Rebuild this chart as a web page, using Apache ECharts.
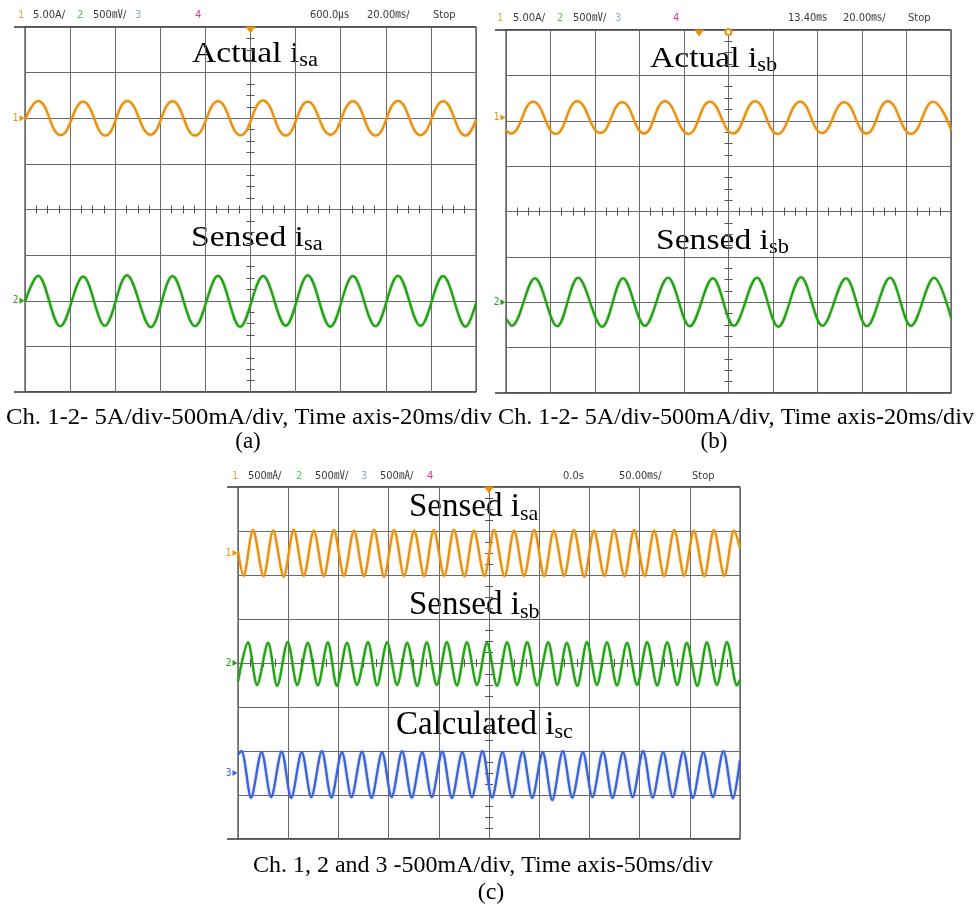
<!DOCTYPE html>
<html>
<head>
<meta charset="utf-8">
<script src="https://cdn.jsdelivr.net/npm/echarts@6/dist/echarts.min.js"></script>
<style>html,body{margin:0;padding:0;background:#fff}#chart{width:976px;height:909px}</style>
</head>
<body>
<div id="chart"></div>
<script>
// ---------- DATA (time in divisions, amplitude in divisions) ----------
// Panel (a): Actual i_sa (ch1, orange) and Sensed i_sa (ch2, green), 20 ms/div
const A_ACTUAL = [[0,1.96],[0.29,2.38],[0.79,1.63],[1.29,2.36],[1.78,1.62],[2.27,2.38],[2.78,1.64],[3.27,2.37],[3.77,1.62],[4.28,2.37],[4.78,1.63],[5.28,2.39],[5.78,1.62],[6.27,2.36],[6.77,1.64],[7.27,2.37],[7.77,1.62],[8.27,2.38],[8.77,1.63],[9.27,2.37],[9.77,1.62],[10,1.96]];
const A_SENSED = [[0,-2.02],[0.29,-1.45],[0.78,-2.56],[1.29,-1.47],[1.77,-2.55],[2.26,-1.44],[2.79,-2.58],[3.27,-1.46],[3.77,-2.56],[4.28,-1.45],[4.77,-2.57],[5.28,-1.46],[5.78,-2.55],[6.27,-1.44],[6.77,-2.57],[7.27,-1.46],[7.77,-2.56],[8.27,-1.45],[8.77,-2.55],[9.27,-1.46],[9.77,-2.57],[10,-2.05]];
// Panel (b): Actual i_sb (ch1) and Sensed i_sb (ch2), 20 ms/div
const B_ACTUAL = [[0,1.80],[0.11,1.72],[0.61,2.42],[1.12,1.71],[1.60,2.43],[2.12,1.73],[2.61,2.41],[3.10,1.72],[3.57,2.43],[4.10,1.71],[4.58,2.42],[5.10,1.72],[5.60,2.43],[6.10,1.71],[6.61,2.42],[7.10,1.73],[7.60,2.41],[8.10,1.72],[8.58,2.43],[9.10,1.71],[9.60,2.42],[10,1.80]];
const B_SENSED = [[0,-2.36],[0.13,-2.52],[0.65,-1.47],[1.15,-2.53],[1.62,-1.46],[2.16,-2.54],[2.63,-1.47],[3.12,-2.52],[3.64,-1.46],[4.13,-2.53],[4.65,-1.47],[5.12,-2.52],[5.64,-1.46],[6.12,-2.54],[6.63,-1.45],[7.11,-2.52],[7.64,-1.47],[8.11,-2.53],[8.63,-1.46],[9.10,-2.52],[9.62,-1.46],[10,-2.34]];
// Panel (c): Sensed i_sa (ch1), Sensed i_sb (ch2), Calculated i_sc (ch3), 50 ms/div
const C_SA = [[0,2.55],[0.11,1.98],[0.30,3.02],[0.51,1.97],[0.70,3.01],[0.91,1.96],[1.11,3.03],[1.31,1.98],[1.51,3.01],[1.71,1.97],[1.91,3.02],[2.11,1.98],[2.31,3.01],[2.51,1.97],[2.71,3.03],[2.91,1.96],[3.11,3.02],[3.31,1.98],[3.51,3.01],[3.71,1.97],[3.90,3.02],[4.11,1.98],[4.30,3.03],[4.51,1.97],[4.70,3.01],[4.91,1.98],[5.10,3.02],[5.31,1.97],[5.50,3.01],[5.70,1.98],[5.90,3.03],[6.10,1.97],[6.29,3.01],[6.50,1.98],[6.69,3.02],[6.90,1.96],[7.09,3.01],[7.30,1.98],[7.49,3.02],[7.70,1.97],[7.89,3.03],[8.10,1.98],[8.29,3.01],[8.49,1.97],[8.69,3.02],[8.89,1.98],[9.08,3.01],[9.29,1.97],[9.48,3.02],[9.69,1.98],[9.88,3.01],[10,2.62]];
const C_SB = [[0,-0.42],[0.20,0.47],[0.38,-0.50],[0.60,0.46],[0.78,-0.52],[0.99,0.48],[1.18,-0.50],[1.39,0.46],[1.59,-0.51],[1.79,0.47],[1.97,-0.52],[2.17,0.46],[2.37,-0.50],[2.59,0.48],[2.77,-0.51],[2.97,0.47],[3.17,-0.50],[3.37,0.46],[3.57,-0.52],[3.76,0.47],[3.96,-0.50],[4.16,0.48],[4.36,-0.51],[4.56,0.47],[4.76,-0.50],[4.96,0.46],[5.16,-0.52],[5.36,0.47],[5.56,-0.50],[5.76,0.48],[5.96,-0.51],[6.18,0.47],[6.36,-0.50],[6.55,0.46],[6.76,-0.52],[6.95,0.48],[7.15,-0.50],[7.35,0.47],[7.55,-0.51],[7.75,0.46],[7.95,-0.50],[8.15,0.48],[8.35,-0.51],[8.55,0.47],[8.75,-0.50],[8.94,0.46],[9.15,-0.52],[9.34,0.47],[9.54,-0.50],[9.74,0.48],[9.94,-0.51],[10,-0.38]];
const C_SC = [[0,-2.08],[0.07,-2.00],[0.26,-3.06],[0.47,-2.02],[0.66,-3.05],[0.87,-2.01],[1.06,-3.07],[1.27,-2.02],[1.46,-3.05],[1.67,-2.00],[1.86,-3.06],[2.07,-2.02],[2.26,-3.05],[2.47,-2.01],[2.66,-3.07],[2.87,-2.02],[3.06,-3.05],[3.27,-2.00],[3.46,-3.06],[3.67,-2.02],[3.86,-3.05],[4.07,-2.01],[4.26,-3.07],[4.47,-2.02],[4.66,-3.05],[4.87,-2.00],[5.06,-3.06],[5.27,-2.02],[5.46,-3.05],[5.67,-2.01],[5.86,-3.07],[6.07,-2.02],[6.26,-3.12],[6.47,-2.00],[6.66,-3.06],[6.87,-2.02],[7.06,-3.05],[7.27,-2.01],[7.46,-3.07],[7.67,-2.02],[7.86,-3.05],[8.07,-2.00],[8.26,-3.06],[8.47,-2.02],[8.66,-3.05],[8.87,-2.01],[9.06,-3.07],[9.27,-2.02],[9.46,-3.05],[9.67,-2.00],[9.86,-3.08],[10,-2.20]];
// channel ground markers (divisions) and trigger positions (divisions)
const LEVELS_A = [2.0, -2.0];
const LEVELS_B = [2.07, -2.0];
const LEVELS_C = [2.5, 0, -2.5];
const TRIGGER_T = [5, 4.34, 5];
// scope header readouts
const HEADER_A = ['1','5.00A/','2','500㎷/','3','4','600.0㎲','20.00㎳/','Stop'];
const HEADER_B = ['1','5.00A/','2','500㎷/','3','4','13.40㎳','20.00㎳/','Stop'];
const HEADER_C = ['1','500㎃/','2','500㎷/','3','500㎃/','4','0.0s','50.00㎳/','Stop'];
const CAPTION_AB = 'Ch. 1-2- 5A/div-500mA/div, Time axis-20ms/div';
const CAPTION_C = 'Ch. 1, 2 and 3 -500mA/div, Time axis-50ms/div';

// ---------- STYLE / LAYOUT ----------
const ORANGE = '#E8900C', GREEN = '#23A114', BLUE = '#3B63D8';
const CH_COL = ['#F4A24A', '#56C256', '#8FA3EA', '#E0388E'];
const GRID_COL = '#6a6a6a';
const GRIDS = [
  {left: 25, top: 27, width: 451, height: 365},
  {left: 506, top: 30, width: 445, height: 363},
  {left: 238, top: 487, width: 502, height: 352}
];
const SERIF = '"Liberation Serif","Times New Roman",serif';
const NARROW = '"Liberation Sans Narrow","DejaVu Sans Condensed","Noto Sans CJK SC",sans-serif';

const chart = echarts.init(document.getElementById('chart'), null, {renderer: 'canvas'});

const xAxis = [], yAxis = [];
GRIDS.forEach((g, gi) => {
  xAxis.push({gridIndex: gi, type: 'value', min: 0, max: 10, interval: 1,
    axisLine: {show: false}, axisTick: {show: false}, axisLabel: {show: false},
    splitLine: {show: true, lineStyle: {color: GRID_COL, width: 1}}});
  ['bottom', 'top'].forEach(pos => xAxis.push({gridIndex: gi, type: 'value', min: -5, max: 5, interval: 1, position: pos,
    axisLine: {show: true, onZero: true, onZeroAxisIndex: gi * 3, lineStyle: {color: GRID_COL, width: 1}},
    axisTick: {show: false}, minorTick: {show: true, splitNumber: 4, length: 4, lineStyle: {color: '#555', width: 1}},
    axisLabel: {show: false}, splitLine: {show: false}}));
  yAxis.push({gridIndex: gi, type: 'value', min: -4, max: 4, interval: 1,
    axisLine: {show: false}, axisTick: {show: false}, axisLabel: {show: false},
    splitLine: {show: true, lineStyle: {color: GRID_COL, width: 1}}});
  ['left', 'right'].forEach(pos => yAxis.push({gridIndex: gi, type: 'value', min: -4, max: 4, interval: 1, position: pos,
    axisLine: {show: true, onZero: true, onZeroAxisIndex: gi * 3 + 1, lineStyle: {color: GRID_COL, width: 1}},
    axisTick: {show: false}, minorTick: {show: true, splitNumber: 4, length: 4, lineStyle: {color: '#555', width: 1}},
    axisLabel: {show: false}, splitLine: {show: false}}));
});

function chMarker(level, chNum, color) {
  return {coord: [0, level], symbol: 'triangle', symbolRotate: -90, symbolSize: [6, 5], symbolOffset: [-3, 0],
    itemStyle: {color: color},
    label: {show: true, formatter: String(chNum), position: 'left', distance: 1, color: color, fontSize: 10, fontFamily: NARROW}};
}
function trigMarker(t) {
  return {coord: [t, 4], symbol: 'triangle', symbolRotate: 180, symbolSize: [10, 7], symbolOffset: [0, 3],
    itemStyle: {color: ORANGE}, label: {show: false}};
}
function trace(gi, data, color, marks, smooth) {
  return {type: 'line', xAxisIndex: gi * 3, yAxisIndex: gi * 3, data: data, showSymbol: false, smooth: smooth,
    silent: true, lineStyle: {color: color, width: 2, shadowBlur: 1.5, shadowColor: color}, itemStyle: {color: color},
    markPoint: {silent: true, animation: false, data: marks}};
}

const series = [
  trace(0, A_ACTUAL, ORANGE, [chMarker(LEVELS_A[0], 1, ORANGE), trigMarker(TRIGGER_T[0])], 0.45),
  trace(0, A_SENSED, GREEN, [chMarker(LEVELS_A[1], 2, GREEN)], 0.35),
  trace(1, B_ACTUAL, ORANGE, [chMarker(LEVELS_B[0], 1, ORANGE), trigMarker(TRIGGER_T[1]),
    {coord: [5, 4], symbol: 'emptyCircle', symbolSize: 6, symbolOffset: [0, 2], itemStyle: {color: ORANGE, borderColor: ORANGE}, label: {show: false}}], 0.45),
  trace(1, B_SENSED, GREEN, [chMarker(LEVELS_B[1], 2, GREEN)], 0.35),
  trace(2, C_SA, ORANGE, [chMarker(LEVELS_C[0], 1, ORANGE), trigMarker(TRIGGER_T[2])], 0.3),
  trace(2, C_SB, GREEN, [chMarker(LEVELS_C[1], 2, GREEN)], 0.3),
  trace(2, C_SC, BLUE, [chMarker(LEVELS_C[2], 3, BLUE)], 0.3)
];

// ---------- graphic texts ----------
const graphic = [];
const mctx = document.createElement('canvas').getContext('2d');
function measure(text, size, family) { mctx.font = size + 'px ' + family; return mctx.measureText(text).width; }
function txt(x, y, text, size, family, fill, align, sx) {
  graphic.push({type: 'text', x: x, y: y, scaleX: sx || 1, silent: true,
    style: {text: text, fontSize: size, fontFamily: family, fill: fill, align: align || 'left', textAlign: align || 'left',
      verticalAlign: 'middle', textVerticalAlign: 'middle'}});
}
function header(items, xs, y, numIdx) {
  items.forEach((s, i) => {
    const k = numIdx.indexOf(i);
    txt(xs[i], y, s, 11, NARROW, k >= 0 ? CH_COL[k] : '#3a3a3a');
  });
}
header(HEADER_A, [18, 33, 77, 93, 135, 195, 310, 367, 433], 15, [0, 2, 4, 5]);
header(HEADER_B, [497, 513, 557, 573, 615, 673, 788, 843, 908], 18, [0, 2, 4, 5]);
header(HEADER_C, [232, 248, 296, 315, 361, 380, 427, 563, 619, 692], 476, [0, 2, 4, 6]);

function title(x, baseline, main, sub, F, Fs, sx) {
  txt(x, baseline - 0.3 * F, main, F, SERIF, '#000', 'left', sx);
  const w = measure(main, F, SERIF) * sx;
  txt(x + w, baseline + 4 - 0.3 * Fs, sub, Fs, SERIF, '#000', 'left', sx);
}
title(192, 63, 'Actual i', 'sa', 30, 20, 1.12);
title(191, 247, 'Sensed i', 'sa', 30, 20, 1.12);
title(650, 68, 'Actual i', 'sb', 30, 20, 1.12);
title(656, 250, 'Sensed i', 'sb', 30, 20, 1.12);
title(409, 517, 'Sensed i', 'sa', 33, 22, 1);
title(409, 615, 'Sensed i', 'sb', 33, 22, 1);
title(396, 735, 'Calculated i', 'sc', 33, 22, 1);

function caption(cx, y, text, size, targetW) {
  const w = measure(text, size, SERIF);
  const sx = targetW ? targetW / w : 1;
  txt(cx - w * sx / 2, y, text, size, SERIF, '#000', 'left', sx);
}
caption(249, 418, CAPTION_AB, 23, 486);
caption(248, 442, '(a)', 23, 0);
caption(736, 418, CAPTION_AB, 23, 476);
caption(714, 442, '(b)', 23, 0);
caption(483, 866, CAPTION_C, 24, 460);
caption(491, 893, '(c)', 24, 0);

// frame lines extending to the left of each screen (scope bezel)
GRIDS.forEach(g => {
  [g.top, g.top + g.height].forEach(yy => graphic.push({type: 'line', silent: true,
    shape: {x1: g.left - 11, y1: yy, x2: g.left + g.width, y2: yy}, style: {stroke: '#333', lineWidth: 1.5}}));
});

chart.setOption({
  animation: false,
  backgroundColor: '#fff',
  grid: GRIDS.map(g => Object.assign({show: true, borderColor: '#444', borderWidth: 1.2, backgroundColor: 'transparent'}, g)),
  xAxis: xAxis,
  yAxis: yAxis,
  series: series,
  graphic: graphic
});
</script>
</body>
</html>
